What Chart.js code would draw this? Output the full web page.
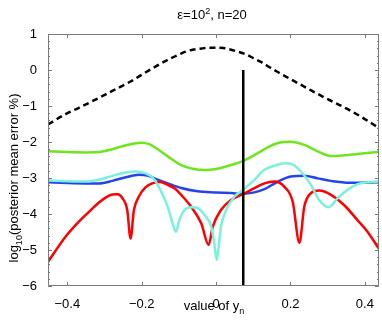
<!DOCTYPE html>
<html>
<head>
<meta charset="utf-8">
<script src="https://cdn.jsdelivr.net/npm/chart.js@4.4.1/dist/chart.umd.min.js"></script>
<style>
  html, body { margin: 0; padding: 0; background: #fff; }
</style>
</head>
<body>
<canvas id="chart" width="382" height="324"></canvas>
<script>
// values (y is log10 of the error)
var xTicks = [-0.4, -0.2, 0, 0.2, 0.4];
var yTicks = [1, 0, -1, -2, -3, -4, -5, -6];

var dashX = [-0.452, -0.40, -0.369, -0.32, -0.279, -0.23, -0.19, -0.15, -0.127, -0.10, -0.082, -0.06, -0.038, -0.02, 0.0, 0.02, 0.034, 0.055, 0.079, 0.10, 0.123, 0.145, 0.168, 0.21, 0.258, 0.30, 0.347, 0.39, 0.438];
var dashY = [-1.51, -1.20, -1.05, -0.80, -0.58, -0.32, -0.07, 0.17, 0.30, 0.43, 0.51, 0.57, 0.60, 0.62, 0.62, 0.61, 0.58, 0.52, 0.44, 0.33, 0.21, 0.07, -0.07, -0.31, -0.58, -0.81, -1.05, -1.30, -1.61];

var greenX = [-0.452, -0.40, -0.35, -0.315, -0.279, -0.25, -0.22, -0.20, -0.18, -0.16, -0.13, -0.094, -0.06, -0.03, 0.0, 0.04, 0.072, 0.112, 0.14, 0.166, 0.20, 0.237, 0.273, 0.309, 0.344, 0.40, 0.438];
var greenY = [-2.26, -2.28, -2.29, -2.28, -2.20, -2.11, -2.04, -2.02, -2.06, -2.18, -2.40, -2.64, -2.75, -2.78, -2.75, -2.64, -2.53, -2.31, -2.14, -2.03, -1.99, -2.08, -2.26, -2.39, -2.37, -2.31, -2.27];

var blueX = [-0.452, -0.40, -0.35, -0.315, -0.279, -0.243, -0.208, -0.185, -0.166, -0.13, -0.094, -0.05, 0.0, 0.04, 0.072, 0.103, 0.13, 0.166, 0.201, 0.237, 0.273, 0.309, 0.36, 0.438];
var blueY = [-3.12, -3.14, -3.15, -3.15, -3.08, -2.98, -2.91, -2.93, -3.01, -3.15, -3.28, -3.37, -3.40, -3.42, -3.44, -3.40, -3.31, -3.10, -2.96, -2.94, -3.01, -3.08, -3.13, -3.12];

var cyanX = [-0.452, -0.40, -0.35, -0.315, -0.279, -0.243, -0.217, -0.19, -0.168, -0.15, -0.13, -0.117, -0.108, -0.099, -0.085, -0.067, -0.049, -0.031, -0.013, -0.005, 0.002, 0.008, 0.013, 0.027, 0.049, 0.072, 0.103, 0.13, 0.16, 0.183, 0.205, 0.228, 0.255, 0.277, 0.302, 0.327, 0.353, 0.38, 0.407, 0.438];
var cyanY = [-3.07, -3.09, -3.10, -3.05, -2.94, -2.85, -2.82, -2.87, -3.02, -3.33, -3.80, -4.26, -4.49, -4.17, -3.89, -3.81, -3.84, -4.03, -4.35, -4.80, -5.28, -4.80, -4.35, -3.89, -3.52, -3.33, -3.05, -2.77, -2.65, -2.59, -2.62, -2.82, -3.19, -3.61, -3.81, -3.56, -3.33, -3.17, -3.12, -3.10];

var redX = [-0.452, -0.405, -0.369, -0.342, -0.315, -0.295, -0.279, -0.265, -0.252, -0.239, -0.230, -0.221, -0.208, -0.19, -0.172, -0.15, -0.13, -0.11, -0.094, -0.067, -0.04, -0.02, -0.009, 0.013, 0.04, 0.072, 0.103, 0.13, 0.157, 0.183, 0.206, 0.224, 0.237, 0.255, 0.277, 0.309, 0.344, 0.38, 0.407, 0.438];
var redY = [-5.33, -4.63, -4.21, -3.94, -3.68, -3.53, -3.46, -3.45, -3.56, -3.89, -4.68, -3.89, -3.52, -3.26, -3.15, -3.11, -3.19, -3.30, -3.47, -3.80, -4.26, -4.86, -4.35, -3.89, -3.61, -3.45, -3.28, -3.15, -3.10, -3.24, -3.66, -4.80, -3.80, -3.42, -3.35, -3.47, -3.75, -4.17, -4.49, -4.97];

// true value marker
var markX = [0.073, 0.073];
var markY = [0, -6];

function pts(xs, ys) {
  return xs.map(function (x, i) { return { x: x, y: ys[i] }; });
}
function minus(s) { return String(s).replace('-', '\u2212'); }

var FONT = '"Liberation Sans", Arial, Helvetica, sans-serif';
Chart.defaults.font.family = FONT;
Chart.defaults.font.size = 13;
Chart.defaults.color = '#000';

// draws text pieces, some raised or lowered
function richText(ctx, parts, x, y, size) {
  var small = Math.round(size * 0.72);
  var w = 0;
  parts.forEach(function (p) {
    ctx.font = (p.sup || p.sub ? small : size) + 'px ' + FONT;
    p.w = ctx.measureText(p.t).width;
    w += p.w;
  });
  var cx = x - w / 2;
  ctx.textAlign = 'left';
  ctx.textBaseline = 'alphabetic';
  parts.forEach(function (p) {
    ctx.font = (p.sup || p.sub ? small : size) + 'px ' + FONT;
    var dy = p.sup ? -size * 0.42 : (p.sub ? size * 0.3 : 0);
    ctx.fillText(p.t, cx, y + dy);
    cx += p.w;
  });
}

var frame = {
  id: 'frame',
  afterDatasetsDraw: function (chart) {
    var ctx = chart.ctx, a = chart.chartArea;
    var xs = chart.scales.x, ys = chart.scales.y;
    ctx.save();
    ctx.strokeStyle = '#7a7a7a';
    ctx.lineWidth = 1;
    ctx.beginPath();
    ctx.rect(a.left + 0.5, a.top + 0.5, a.right - a.left - 1, a.bottom - a.top - 1);
    xTicks.forEach(function (v) {
      var px = Math.round(xs.getPixelForValue(v)) + 0.5;
      ctx.moveTo(px, a.bottom); ctx.lineTo(px, a.bottom - 4);
      ctx.moveTo(px, a.top); ctx.lineTo(px, a.top + 4);
    });
    for (var k = -30; k <= 5; k++) {
      var py = Math.round(ys.getPixelForValue(k / 5)) + 0.5;
      var len = (k % 5 === 0) ? 4 : 2;
      ctx.moveTo(a.left, py); ctx.lineTo(a.left + len, py);
      ctx.moveTo(a.right, py); ctx.lineTo(a.right - len, py);
    }
    ctx.stroke();
    ctx.restore();
  },
  afterDraw: function (chart) {
    var ctx = chart.ctx;
    ctx.save();
    ctx.fillStyle = '#000';
    richText(ctx, [{ t: '\u03b5=10' }, { t: '2', sup: true }, { t: ', n=20' }], 212, 19, 13);
    richText(ctx, [{ t: 'value of y' }, { t: 'n', sub: true }], 214, 310, 13);
    ctx.translate(18, 178);
    ctx.rotate(-Math.PI / 2);
    richText(ctx, [{ t: 'log' }, { t: '10', sub: true }, { t: '(posterior mean error %)' }], 0, 0, 13);
    ctx.restore();
  }
};

var lineOpts = { pointRadius: 0, fill: false, cubicInterpolationMode: 'monotone', borderWidth: 2.5 };

new Chart(document.getElementById('chart'), {
  type: 'line',
  data: {
    datasets: [
      { label: 'true value', data: pts(markX, markY), borderColor: '#000', borderWidth: 2.5, pointRadius: 0 },
      Object.assign({}, lineOpts, { label: 'prior', data: pts(dashX, dashY), borderColor: '#000', borderDash: [6, 4] }),
      Object.assign({}, lineOpts, { label: 'cyan', data: pts(cyanX, cyanY), borderColor: '#78f2da' }),
      Object.assign({}, lineOpts, { label: 'red', data: pts(redX, redY), borderColor: '#ff0000' }),
      Object.assign({}, lineOpts, { label: 'blue', data: pts(blueX, blueY), borderColor: '#2444ea' }),
      Object.assign({}, lineOpts, { label: 'green', data: pts(greenX, greenY), borderColor: '#6ee61e' })
    ]
  },
  options: {
    responsive: false,
    animation: false,
    layout: { padding: { top: 34, right: 3, left: 0, bottom: 0 } },
    plugins: { legend: { display: false }, tooltip: { enabled: false }, title: { display: false } },
    scales: {
      x: {
        type: 'linear', min: -0.452, max: 0.438,
        grid: { display: false }, border: { display: false },
        afterBuildTicks: function (s) { s.ticks = xTicks.map(function (v) { return { value: v }; }); },
        afterFit: function (s) { s.height = 38; },
        ticks: { padding: 3, maxRotation: 0, font: { size: 13 },
          callback: function (v) { return v === 0 ? '0' : minus(v.toFixed(1)); } }
      },
      y: {
        min: -6, max: 1,
        grid: { display: false }, border: { display: false },
        afterBuildTicks: function (s) { s.ticks = yTicks.map(function (v) { return { value: v }; }); },
        afterFit: function (s) { s.width = 48; },
        ticks: { padding: 3, font: { size: 13 }, callback: function (v) { return minus(v); } }
      }
    }
  },
  plugins: [frame]
});
</script>
</body>
</html>
